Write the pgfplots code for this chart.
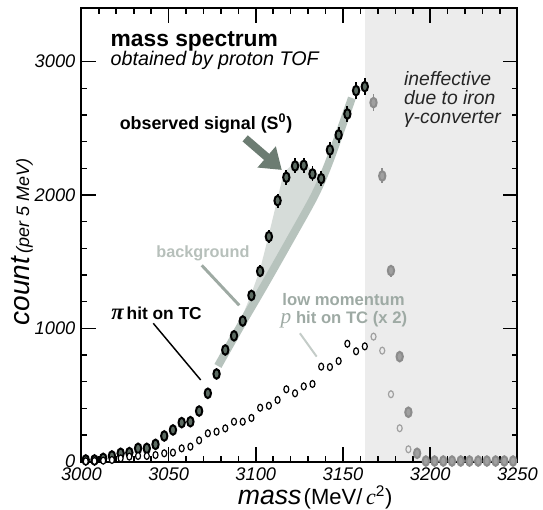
\documentclass[border=0pt]{standalone}
\usepackage{fontspec}
\setmainfont{Liberation Sans}
\newfontfamily\serif{Liberation Serif}
\usepackage{pgfplots}
\pgfplotsset{compat=1.18}
\usetikzlibrary{arrows.meta}
\definecolor{sigfill}{RGB}{92,107,98}
\definecolor{arrowc}{RGB}{108,124,114}
\definecolor{bandc}{RGB}{183,195,189}
\definecolor{sigarea}{RGB}{214,220,217}
\definecolor{bgtext}{RGB}{183,192,187}
\definecolor{bgline}{RGB}{158,170,163}
\definecolor{lowtext}{RGB}{158,170,164}
\definecolor{lowline}{RGB}{196,204,200}
\definecolor{shadec}{RGB}{236,236,236}
\definecolor{fadefill}{RGB}{160,160,160}
\definecolor{fadedraw}{RGB}{140,140,140}
\definecolor{fadeopen}{RGB}{160,160,160}
\begin{document}
\begin{tikzpicture}
\useasboundingbox (0,0) rectangle (407.25pt,382.5pt);
\begin{axis}[
  at={(61.05pt,36.225pt)}, anchor=south west,
  scale only axis, width=327pt, height=340pt,
  xmin=3000, xmax=3250, ymin=0, ymax=3400,
  xtick={3000,3050,3100,3150,3200,3250}, minor x tick num=4,
  ytick={0,1000,2000,3000}, minor y tick num=4,
  xtick pos=both, ytick pos=both, xticklabel pos=left, yticklabel pos=left,
  tick align=inside,
  major tick length=11pt, minor tick length=4pt,
  axis line style={line width=1.5pt},
  every tick/.style={black, line width=1.2pt},
  /pgf/number format/assume math mode=true,
  /pgf/number format/set thousands separator={},
  xticklabel style={font=\fontsize{13.7}{14}\selectfont\itshape, anchor=north, yshift=-1pt},
  yticklabel style={font=\fontsize{13.7}{14}\selectfont\itshape, anchor=east, xshift=-1pt},
  axis on top,
  clip=false,
]
% ineffective region
\addplot[draw=none, fill=shadec] coordinates {
 (3162.6,3400) (3250,3400)} \closedcycle;
% signal area
\addplot[draw=none, fill=sigarea] coordinates {
 (3091,1050) (3097.5,1262) (3102.5,1445) (3107.5,1705) (3112.5,1975) (3116,2170)
 (3122.5,2245) (3127.5,2250) (3132.5,2180) (3138.5,2140)
 (3133.9,2001) (3119.6,1663) (3105.3,1333) (3090.9,1010)} --cycle;
% background band
\addplot[smooth, bandc, line width=6pt] coordinates {
 (3078.3,718) (3090.9,1010) (3105.3,1333) (3119.6,1663) (3133.9,2001) (3142.5,2263) (3155.1,2728)};
% observed signal (effective region)
\addplot[only marks, mark=*, mark size=3.6pt,
  mark options={xscale=0.66, fill=sigfill, draw=black, line width=1.5pt},
  error bars/.cd, y dir=both, y explicit, error mark=none,
  error bar style={line width=1.4pt, black}]
 table[x=m, y=c, y error=e] {
m c e
3002.5 13 4
3007.5 13 4
3012.5 25 6
3017.5 43 8
3022.5 63 10
3027.5 68 10
3032.5 100 12
3037.5 100 12
3042.5 130 14
3047.5 193 17
3052.5 238 19
3057.5 293 21
3062.5 300 21
3067.5 380 23
3072.5 513 27
3077.5 658 31
3082.5 838 35
3087.5 944 37
3092.5 1055 39
3097.5 1247 42
3102.5 1428 45
3107.5 1688 49
3112.5 1958 53
3117.5 2133 55
3122.5 2218 56
3127.5 2223 57
3132.5 2158 56
3137.5 2123 55
3142.5 2338 58
3147.5 2451 59
3152.5 2608 61
3157.5 2783 63
3162.5 2813 64
};
% observed signal (ineffective region, faded)
\addplot[only marks, mark=*, mark size=3.6pt,
  mark options={xscale=0.66, fill=fadefill, draw=fadedraw, line width=1.5pt},
  error bars/.cd, y dir=both, y explicit, error mark=none,
  error bar style={line width=1.4pt, fadedraw}]
 table[x=m, y=c, y error=e] {
m c e
3167.5 2693 62
3172.5 2143 56
3177.5 1433 45
3182.5 788 34
3187.5 371 23
3192.5 63 10
3197.5 5 3
3202.5 5 3
3207.5 5 3
3212.5 5 3
3217.5 5 3
3222.5 5 3
3227.5 5 3
3232.5 5 3
3237.5 5 3
3242.5 5 3
3247.5 5 3
};
% low momentum p (x2)
\addplot[only marks, mark=*, mark size=2.6pt,
  mark options={xscale=0.72, fill=white, draw=black, line width=0.9pt}]
 table[x=m, y=c] {
m c
3002.5 3
3007.5 5
3012.5 8
3017.5 13
3022.5 25
3027.5 38
3032.5 43
3037.5 43
3042.5 50
3047.5 63
3052.5 68
3057.5 100
3062.5 113
3067.5 160
3072.5 213
3077.5 225
3082.5 250
3087.5 300
3092.5 300
3097.5 328
3102.5 405
3107.5 420
3112.5 463
3117.5 543
3122.5 513
3127.5 565
3132.5 583
3137.5 713
3142.5 710
3147.5 755
3152.5 885
3157.5 828
3162.5 865
};
\addplot[only marks, mark=*, mark size=2.6pt,
  mark options={xscale=0.72, fill=shadec, draw=fadeopen, line width=0.9pt}]
 table[x=m, y=c] {
m c
3167.5 938
3172.5 833
3177.5 506
3182.5 251
3187.5 93
};

% annotations
\node[anchor=base west, font=\fontsize{17.1}{18}\selectfont\bfseries] at (axis cs:3014.1,3112) {mass spectrum};
\node[anchor=base west, font=\fontsize{14.8}{16}\selectfont\itshape] at (axis cs:3014.1,2975) {obtained by proton TOF};
\node[anchor=base west, font=\fontsize{13.4}{14}\selectfont\bfseries] at (axis cs:3019.3,2488) {observed signal (S\textsuperscript{0})};
\node[anchor=base west, font=\fontsize{14.5}{15}\selectfont\itshape, text=black!85] at (axis cs:3182.3,2825) {ineffective};
\node[anchor=base west, font=\fontsize{14.5}{15}\selectfont\itshape, text=black!85] at (axis cs:3182.3,2681) {due to iron};
\node[anchor=base west, font=\fontsize{14.5}{15}\selectfont\itshape, text=black!85] at (axis cs:3182.3,2533) {γ-converter};
\node[anchor=base west, font=\fontsize{12.2}{13}\selectfont\bfseries, text=bgtext] at (axis cs:3040.3,1535) {background};
\node[anchor=base west, font=\fontsize{13}{14}\selectfont\bfseries] at (axis cs:3014.5,1068) {{\serif\bfseries\itshape\fontsize{17}{17}\selectfont π}\,hit on TC};
\node[anchor=base west, font=\fontsize{12.5}{13}\selectfont\bfseries, text=lowtext] at (axis cs:3112.6,1175) {low momentum};
\node[anchor=base west, font=\fontsize{12.5}{13}\selectfont\bfseries, text=lowtext] at (axis cs:3111.6,1038) {{\serif\mdseries\itshape\fontsize{16}{16}\selectfont p} hit on TC (x 2)};

\draw[black, line width=1.1pt] (axis cs:3041.2,1038) -- (axis cs:3068.4,613);
\draw[bgline, line width=2.2pt] (axis cs:3069,1473) -- (axis cs:3090.5,1173);
\draw[lowline, line width=1.5pt] (axis cs:3125.3,963) -- (axis cs:3134.9,788);
\draw[arrowc, line width=6pt, -{Triangle[length=15pt,width=20pt]}] (axis cs:3093.9,2425) -- (axis cs:3114.9,2188);

% axis labels
\node[rotate=90, anchor=base west, font=\itshape] at (axis cs:2970,988) {{\fontsize{21}{22}\selectfont count} {\fontsize{13.5}{14}\selectfont (per 5 MeV)}};
\node[anchor=base, inner sep=0pt, text height=12pt, text depth=3.5pt] at (axis cs:3134,-320) {{\fontsize{20}{22}\selectfont\itshape mass}\,{\fontsize{16.5}{18}\selectfont (MeV/\,{\serif\itshape c}\textsuperscript{2})}};
\end{axis}
\end{tikzpicture}
\end{document}
